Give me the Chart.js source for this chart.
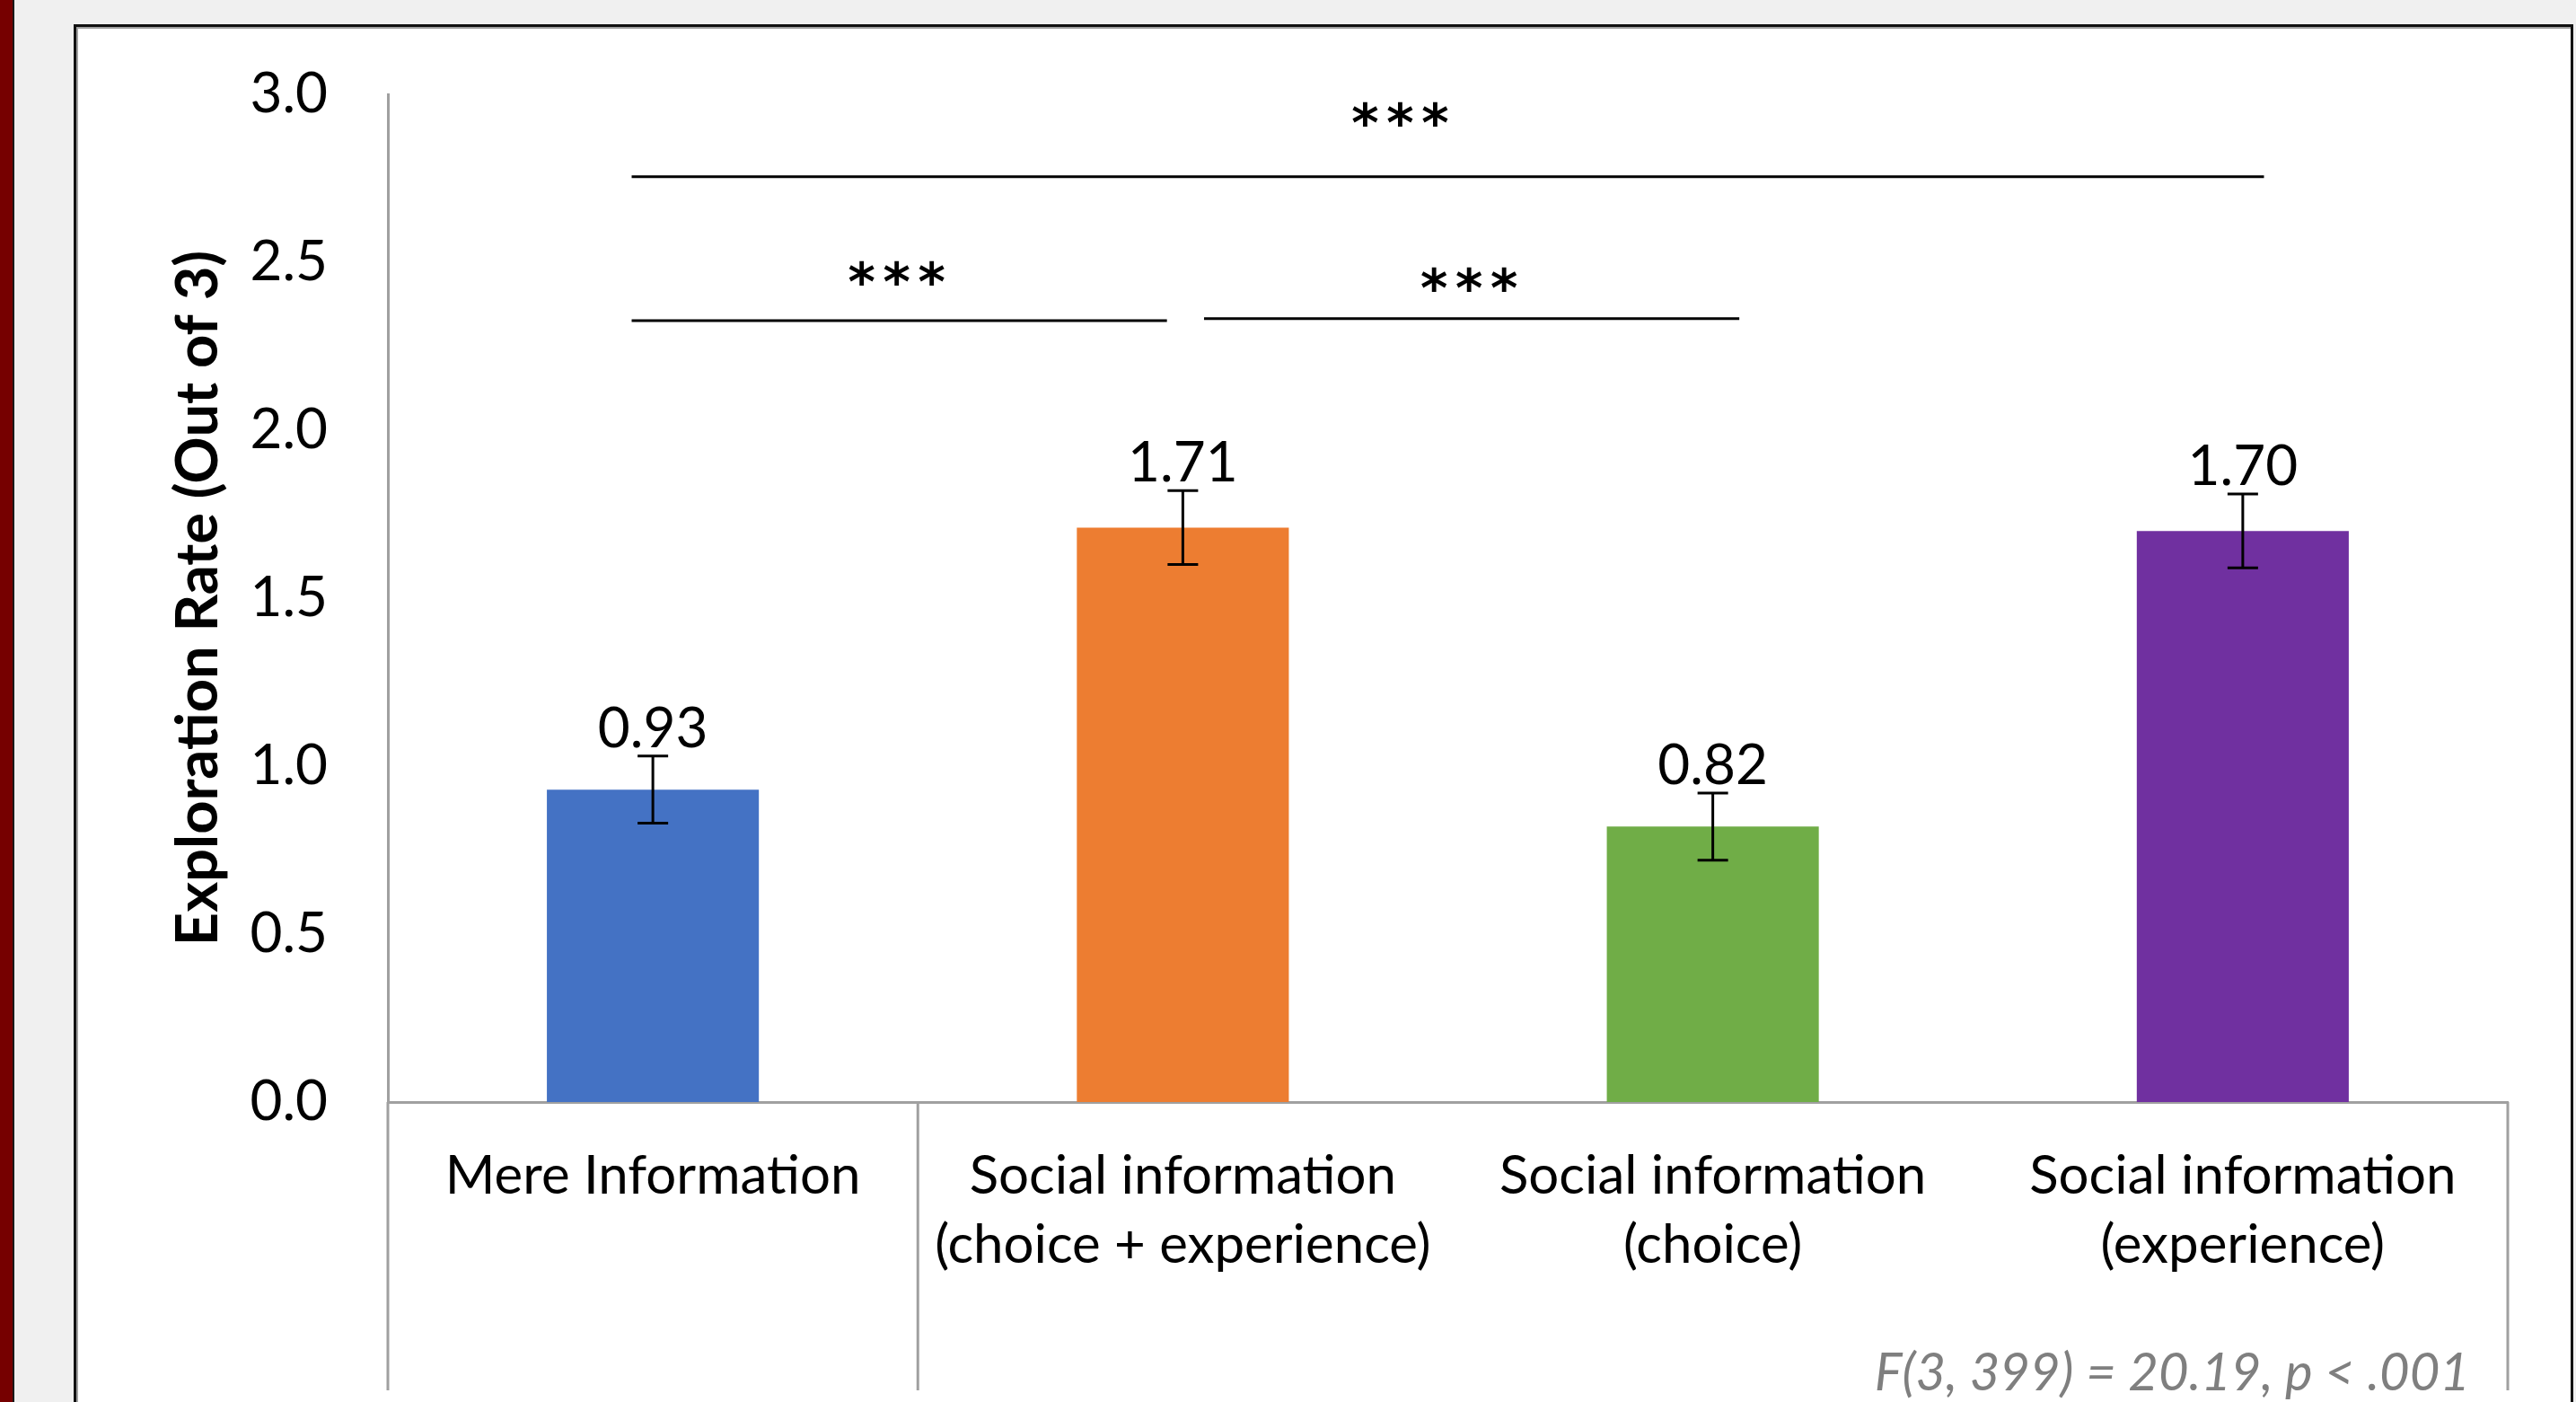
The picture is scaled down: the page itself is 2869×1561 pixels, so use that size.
<!DOCTYPE html>
<html>
<head>
<meta charset="utf-8">
<script src="https://cdn.jsdelivr.net/npm/chart.js@4.4.0/dist/chart.umd.min.js"></script>
<style>
html,body{margin:0;padding:0;width:2869px;height:1561px;overflow:hidden;background:#f0f0f0;}
#strip{position:absolute;left:0;top:0;width:14px;height:1561px;background:#760000;border-right:2px solid #1a1a1a;}
#frame{position:absolute;left:82px;top:27px;width:2778px;height:1600px;background:#fff;border:3px solid #111;border-bottom:none;box-shadow:inset 2px 2px 0 #a0a0a0;}
#c{position:absolute;left:0;top:0;}
</style>
</head>
<body>
<div id="strip"></div>
<div id="frame"></div>
<canvas id="c" width="2869" height="1561"></canvas>
<script>
// ---- data ----
const categories = [
  ["Mere Information"],
  ["Social information", "(choice + experience)"],
  ["Social information", "(choice)"],
  ["Social information", "(experience)"]
];
const means = [0.93, 1.71, 0.82, 1.70];
const stdErrors = [0.10, 0.11, 0.10, 0.11];
const barColors = ["#4472C4", "#ED7D31", "#70AD47", "#7030A0"];
const yTicks = [0, 0.5, 1.0, 1.5, 2.0, 2.5, 3.0];
const yTitle = "Exploration Rate (Out of 3)";
const statText = "F(3, 399) = 20.19, p < .001";
// significance brackets (category-index units / y values)
const sigFrom = [-0.04, -0.04, 1.04];
const sigTo = [3.04, 0.97, 2.05];
const sigLineY = [2.755, 2.326, 2.332];
const sigStarX = [1.41, 0.46, 1.54];
const sigStarY = [2.94, 2.468, 2.449];
const sigText = ["***", "***", "***"];
// category group boundaries (Excel-style divider lines below the axis)
const groupBounds = [-0.5, 0.5, 3.5];

const AXIS_GRAY = "#a0a0a0";

const overlay = {
  id: "overlay",
  afterDatasetsDraw(chart) {
    const ctx = chart.ctx;
    const xs = chart.scales.x, ys = chart.scales.y;
    const area = chart.chartArea;
    ctx.save();
    // error bars
    ctx.strokeStyle = "#000";
    ctx.lineWidth = 3;
    means.forEach((m, i) => {
      const x = xs.getPixelForValue(i);
      const yt = ys.getPixelForValue(m + stdErrors[i]);
      const yb = ys.getPixelForValue(m - stdErrors[i]);
      ctx.beginPath();
      ctx.moveTo(x, yt); ctx.lineTo(x, yb);
      ctx.moveTo(x - 17, yt); ctx.lineTo(x + 17, yt);
      ctx.moveTo(x - 17, yb); ctx.lineTo(x + 17, yb);
      ctx.stroke();
      // value label
      ctx.fillStyle = "#000";
      ctx.font = "62px Lato";
      ctx.textAlign = "center";
      ctx.textBaseline = "alphabetic";
      ctx.fillText(m.toFixed(2), x, yt - 10);
    });
    // significance lines
    ctx.lineWidth = 3;
    sigFrom.forEach((f, k) => {
      const y = ys.getPixelForValue(sigLineY[k]);
      ctx.beginPath();
      ctx.moveTo(xs.getPixelForValue(f), y);
      ctx.lineTo(xs.getPixelForValue(sigTo[k]), y);
      ctx.stroke();
      ctx.font = 'bold 58px "DejaVu Sans"';
      ctx.textAlign = "center";
      ctx.textBaseline = "alphabetic";
      const mt = ctx.measureText("*");
      const cy = ys.getPixelForValue(sigStarY[k]);
      const by = cy + (mt.actualBoundingBoxAscent - mt.actualBoundingBoxDescent) / 2;
      const cx = xs.getPixelForValue(sigStarX[k]);
      const chars = sigText[k].split("");
      const step = 39;
      chars.forEach((c, j) => {
        ctx.fillText(c, cx + (j - (chars.length - 1) / 2) * step, by);
      });
    });
    // group divider lines
    ctx.strokeStyle = AXIS_GRAY;
    ctx.lineWidth = 3;
    groupBounds.forEach(b => {
      const x = xs.getPixelForValue(b);
      ctx.beginPath();
      ctx.moveTo(x, area.bottom);
      ctx.lineTo(x, area.bottom + 321);
      ctx.stroke();
    });
    // statistics text
    ctx.fillStyle = "#7f7f7f";
    ctx.font = "italic 58px Lato";
    ctx.textAlign = "right";
    ctx.textBaseline = "alphabetic";
    ctx.fillText(statText, area.right - 42, area.bottom + 321);
    ctx.restore();
  }
};

new Chart(document.getElementById("c"), {
  type: "bar",
  data: {
    labels: categories,
    datasets: [{
      data: means,
      backgroundColor: barColors,
      borderWidth: 0,
      barPercentage: 0.4,
      categoryPercentage: 1.0
    }]
  },
  options: {
    responsive: false,
    animation: false,
    devicePixelRatio: 1,
    layout: { padding: { top: 105, right: 76, bottom: 0, left: 0 } },
    plugins: { legend: { display: false }, tooltip: { enabled: false }, title: { display: false } },
    scales: {
      x: {
        grid: { display: false, drawTicks: false },
        border: { display: true, color: AXIS_GRAY, width: 3 },
        ticks: {
          color: "#000",
          font: { family: "Lato", size: 60, lineHeight: 1.28 },
          padding: 44,
          maxRotation: 0,
          autoSkip: false
        },
        afterFit: s => { s.height = 334; }
      },
      y: {
        min: 0, max: 3,
        grid: { display: false, drawTicks: false },
        border: { display: true, color: AXIS_GRAY, width: 3 },
        afterBuildTicks: s => { s.ticks = yTicks.map(v => ({ value: v })); },
        ticks: {
          color: "#000",
          font: { family: "Lato", size: 62 },
          padding: 67,
          callback: v => Number(v).toFixed(1)
        },
        title: {
          display: true,
          text: yTitle,
          color: "#000",
          font: { family: "Lato", size: 65, weight: "bold", lineHeight: 1.2 },
          padding: { top: 182, bottom: 0 }
        },
        afterFit: s => { s.width = 432; }
      }
    }
  },
  plugins: [overlay]
});
</script>
</body>
</html>
